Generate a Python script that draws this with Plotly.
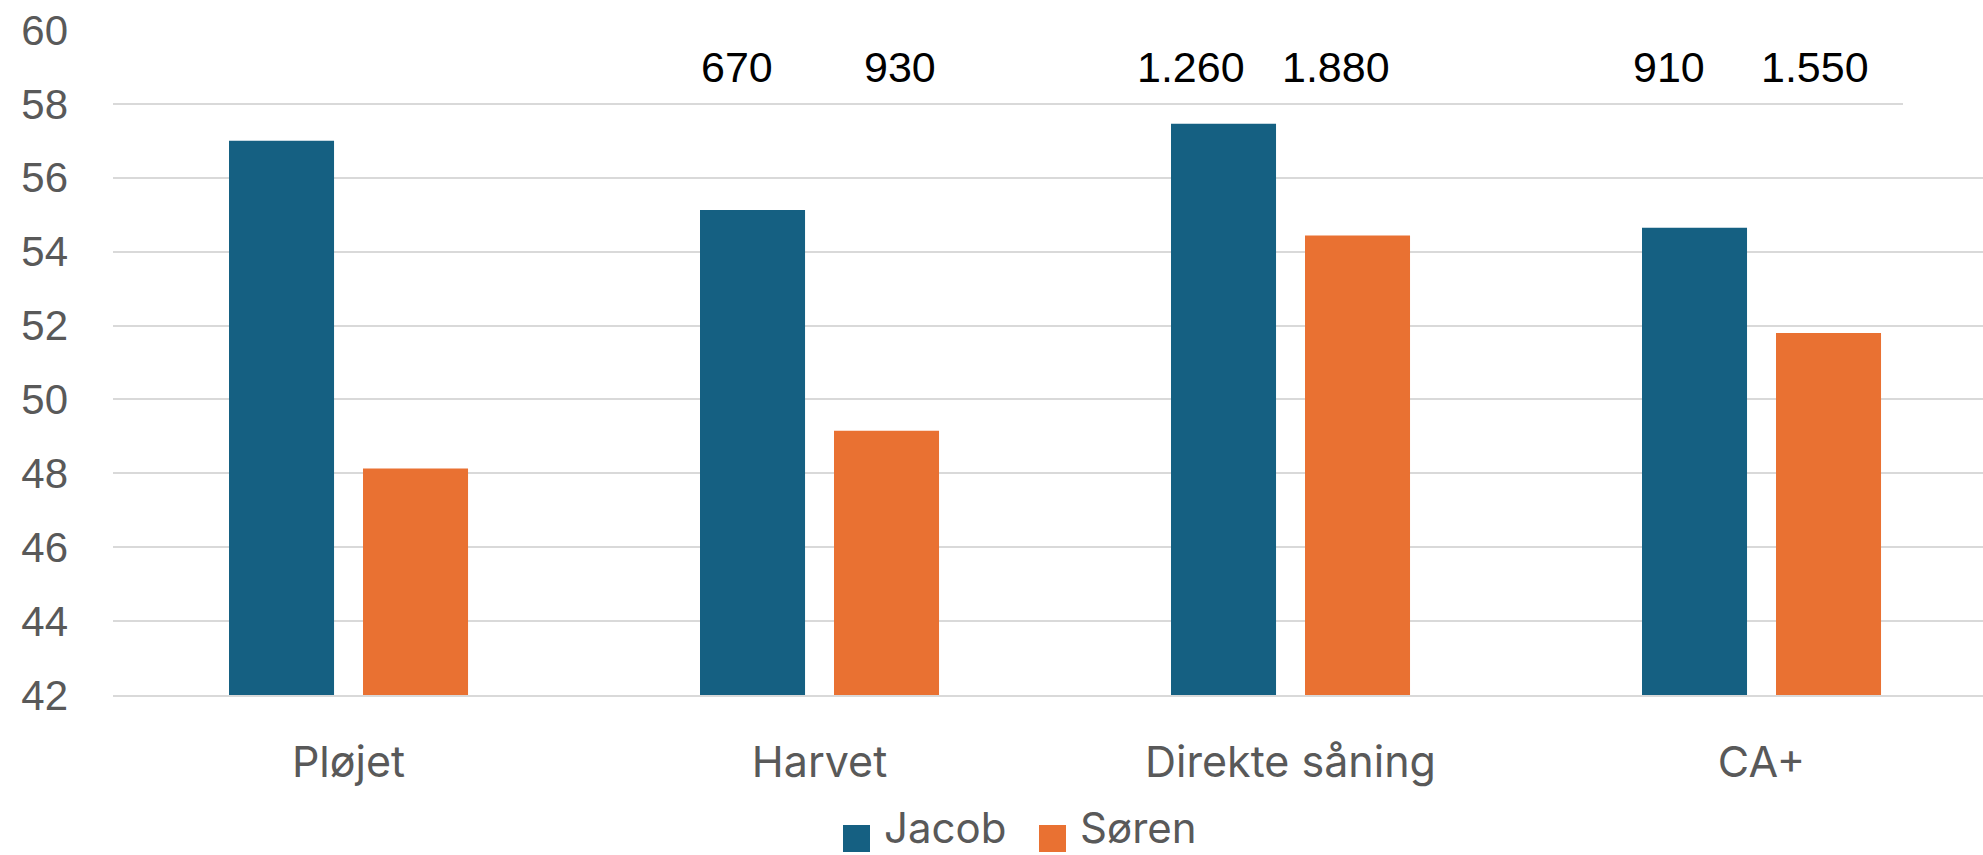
import plotly.graph_objects as go

categories = ["Pløjet", "Harvet", "Direkte såning", "CA+"]
jacob = [57.0, 55.13, 57.46, 54.65]
soren = [48.13, 49.15, 54.44, 51.80]
series_names = ["Jacob", "Søren"]
# labels above groups
top_labels_jacob = ["", "670", "1.260", "910"]
top_labels_soren = ["", "930", "1.880", "1.550"]
y_ticks = [42, 44, 46, 48, 50, 52, 54, 56, 58, 60]

C_JACOB = "#156082"
C_SOREN = "#E97132"
GRID = "#d9d9d9"
TXT = "#595959"

W, H = 1983, 855
ML, MR, MT, MB = 113, 0, 30, 160
BAR_W = 0.223
OFF_J = -0.2537
OFF_S = 0.0308

fig = go.Figure()
fig.add_trace(go.Bar(x=list(range(len(categories))), y=jacob, name=series_names[0],
                     marker=dict(color=C_JACOB, line=dict(width=0)),
                     width=BAR_W, offset=OFF_J, showlegend=False))
fig.add_trace(go.Bar(x=list(range(len(categories))), y=soren, name=series_names[1],
                     marker=dict(color=C_SOREN, line=dict(width=0)),
                     width=BAR_W, offset=OFF_S, showlegend=False))

# annotations above the bars
shift_j = [0, -16, -33, -26]
shift_s = [0, 13, -22, -14]
annots = []
for i in range(len(categories)):
    for txt, off, sh in ((top_labels_jacob[i], OFF_J, shift_j[i]), (top_labels_soren[i], OFF_S, shift_s[i])):
        if txt:
            annots.append(dict(x=i + off + BAR_W / 2, y=59, xref="x", yref="y", text=txt,
                               showarrow=False, xanchor="center", yanchor="middle", xshift=sh,
                               font=dict(family="Liberation Sans, Arial", size=43, color="#000000")))

# manual legend
pw = W - ML - MR
ph = H - MT - MB
def px_x(p):
    return (p - ML) / pw
def px_y(p):
    return (H - MB - p) / ph

shapes = []
legend_items = [(series_names[0], C_JACOB, 843, 883), (series_names[1], C_SOREN, 1039, 1079)]
for name, col, sx, tx in legend_items:
    shapes.append(dict(type="rect", xref="paper", yref="paper",
                       x0=px_x(sx), x1=px_x(sx + 27), y0=px_y(852), y1=px_y(825),
                       fillcolor=col, line=dict(width=0)))
    annots.append(dict(x=px_x(tx), y=px_y(854), xref="paper", yref="paper", text=name,
                       showarrow=False, xanchor="left", yanchor="bottom", borderpad=0,
                       font=dict(family="Inter", size=42, color=TXT)))

# white cover at top right (as in reference)
shapes.append(dict(type="rect", xref="paper", yref="paper", x0=px_x(1903), x1=1.01,
                   y0=px_y(140), y1=1.05, fillcolor="white", line=dict(width=0), layer="above"))

fig.update_layout(
    width=W, height=H,
    margin=dict(l=ML, r=MR, t=MT, b=MB, pad=0),
    paper_bgcolor="white", plot_bgcolor="white",
    barmode="group",
    showlegend=False,
    annotations=annots,
    shapes=shapes,
    xaxis=dict(range=[-0.5, 3.4703], tickmode="array", tickvals=list(range(len(categories))),
               ticktext=categories, showgrid=False, zeroline=False,
               showline=True, linecolor=GRID, linewidth=2, ticks="",
               tickfont=dict(family="Inter", size=43, color=TXT), ticklabelstandoff=28),
    yaxis=dict(range=[42, 60], tickmode="array", tickvals=y_ticks, ticktext=[str(v) for v in y_ticks],
               showgrid=True, gridcolor=GRID, gridwidth=2, zeroline=False, showline=False, ticks="",
               tickfont=dict(family="Liberation Sans, Arial", size=42, color=TXT), ticklabelstandoff=44),
)

fig.write_html("out.html")
